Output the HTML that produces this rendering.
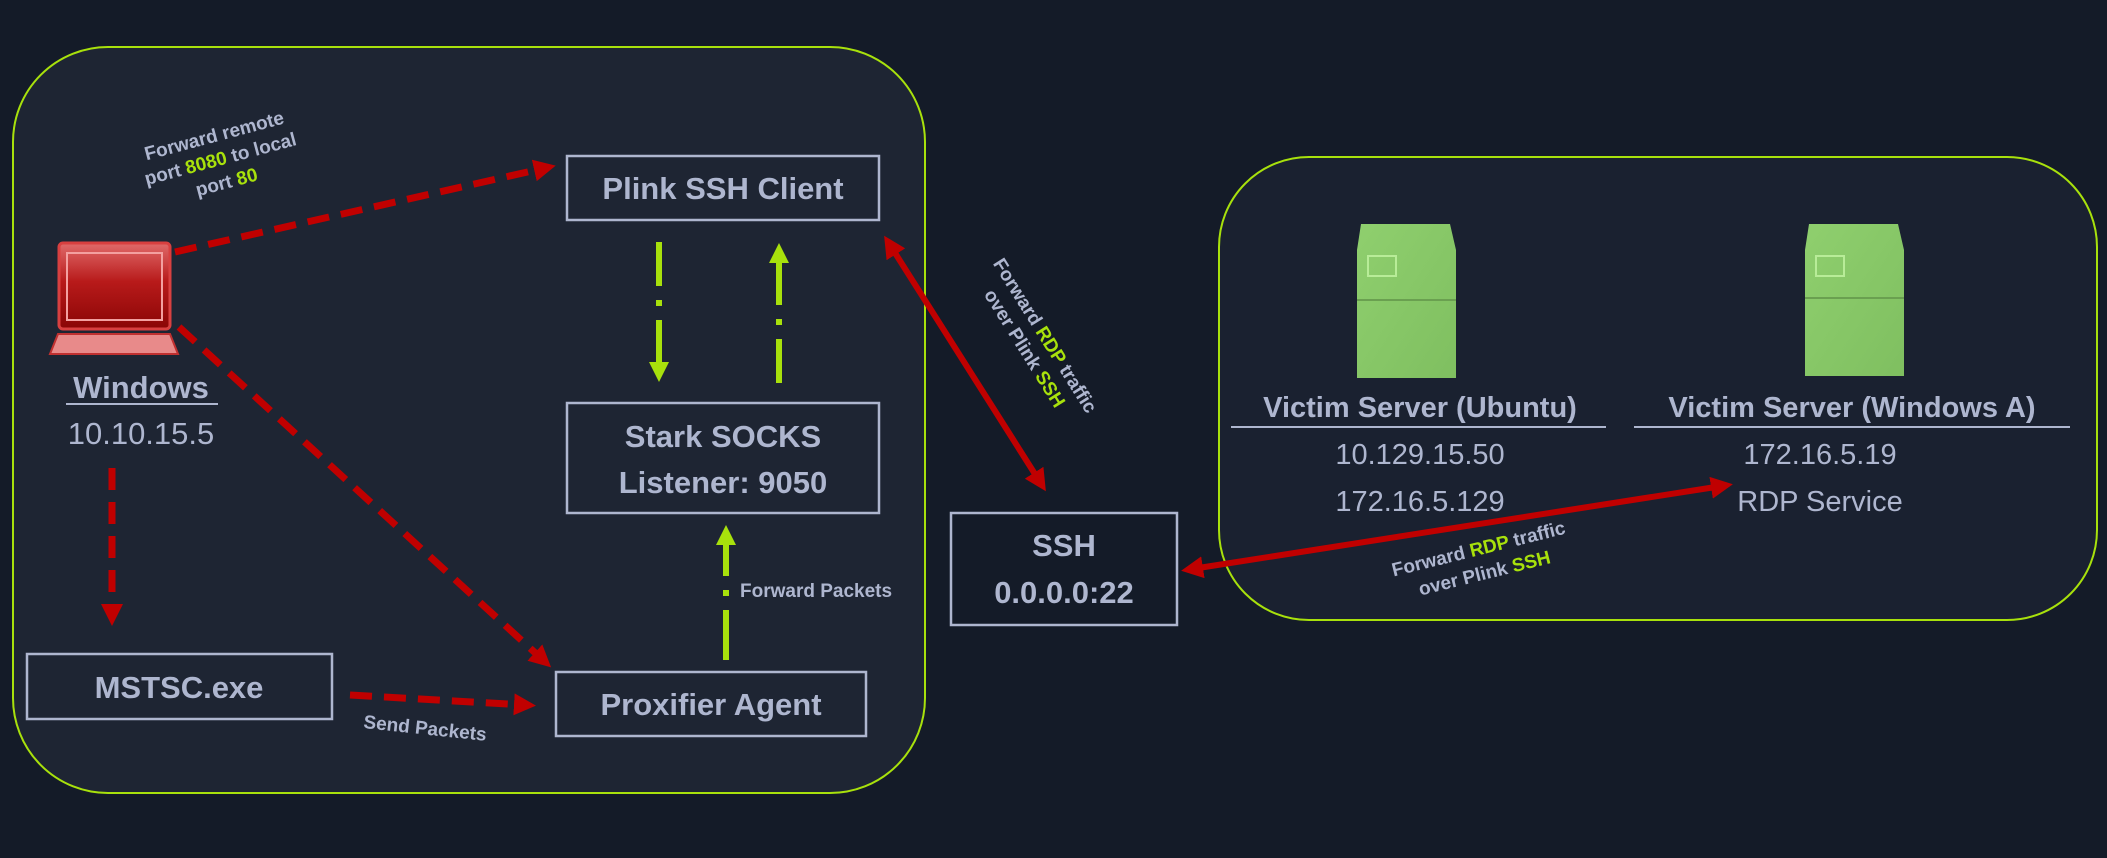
<!DOCTYPE html>
<html><head><meta charset="utf-8"><style>
html,body{margin:0;padding:0;background:#141b28;}
svg{display:block}
text{font-family:"Liberation Sans",sans-serif;fill:#aeb6cf;}
.b{font-weight:bold}
.g{fill:#a8e10c}
</style></head><body>
<svg width="2107" height="858" viewBox="0 0 2107 858" xmlns="http://www.w3.org/2000/svg">
<defs>
<marker id="arr" markerWidth="22" markerHeight="22" refX="11" refY="11" orient="auto" markerUnits="userSpaceOnUse" viewBox="0 0 22 22"><path d="M0,0 L22,11 L0,22 z" fill="#c00000"/></marker>
<marker id="arrs" markerWidth="22" markerHeight="22" refX="11" refY="11" orient="auto-start-reverse" markerUnits="userSpaceOnUse" viewBox="0 0 22 22"><path d="M0,0 L22,11 L0,22 z" fill="#c00000"/></marker>
<marker id="ag" markerWidth="20" markerHeight="20" refX="10" refY="10" orient="auto" markerUnits="userSpaceOnUse" viewBox="0 0 20 20"><path d="M0,0 L20,10 L0,20 z" fill="#a8e10c"/></marker>
<linearGradient id="srv" x1="0" y1="0" x2="1" y2="1"><stop offset="0" stop-color="#8fcf6e"/><stop offset="1" stop-color="#7fbf60"/></linearGradient>
<linearGradient id="scr" x1="0" y1="0" x2="0" y2="1"><stop offset="0" stop-color="#e06a6a"/><stop offset="0.45" stop-color="#b81a1a"/><stop offset="1" stop-color="#8a0606"/></linearGradient>
</defs>
<rect x="13" y="47" width="912" height="746" rx="95" fill="#1e2533" stroke="#a8e10c" stroke-width="2"/>
<rect x="1219" y="157" width="878" height="463" rx="90" fill="#1a2130" stroke="#a8e10c" stroke-width="2"/>

<g fill="none" stroke="#aeb6cf" stroke-width="2.5">
<rect x="567" y="156" width="312" height="64"/>
<rect x="567" y="403" width="312" height="110"/>
<rect x="556" y="672" width="310" height="64"/>
<rect x="27" y="654" width="305" height="65"/>
<rect x="951" y="513" width="226" height="112"/>
</g>
<g class="b" font-size="31" text-anchor="middle">
<text x="723" y="199">Plink SSH Client</text>
<text x="723" y="447">Stark SOCKS</text>
<text x="723" y="493">Listener: 9050</text>
<text x="711" y="715">Proxifier Agent</text>
<text x="179" y="698">MSTSC.exe</text>
<text x="1064" y="556">SSH</text>
<text x="1064" y="603">0.0.0.0:22</text>
</g>

<rect x="59" y="243" width="111" height="86" rx="4" fill="url(#scr)" stroke="#d84040" stroke-width="3"/>
<rect x="67" y="253" width="95" height="67" fill="none" stroke="#f3a0a0" stroke-width="2"/>
<path d="M58,334 L170,334 L178,354 L50,354 Z" fill="#e88a8a" stroke="#c03030" stroke-width="2"/>
<text x="141" y="398" class="b" font-size="31" text-anchor="middle">Windows</text>
<line x1="66" y1="404" x2="218" y2="404" stroke="#aeb6cf" stroke-width="2"/>
<text x="141" y="444" font-size="31" text-anchor="middle">10.10.15.5</text>

<g>
<path d="M1361,224 L1450,224 L1456,250 L1456,378 L1357,378 L1357,250 Z" fill="url(#srv)"/>
<rect x="1368" y="256" width="28" height="20" fill="none" stroke="#b8ec98" stroke-width="2"/>
<line x1="1357" y1="300" x2="1456" y2="300" stroke="#6aa050" stroke-width="2"/>
<path d="M1809,224 L1898,224 L1904,250 L1904,376 L1805,376 L1805,250 Z" fill="url(#srv)"/>
<rect x="1816" y="256" width="28" height="20" fill="none" stroke="#b8ec98" stroke-width="2"/>
<line x1="1805" y1="298" x2="1904" y2="298" stroke="#6aa050" stroke-width="2"/>
</g>
<g class="b" font-size="29" text-anchor="middle">
<text x="1420" y="417">Victim Server (Ubuntu)</text>
<text x="1852" y="417">Victim Server (Windows A)</text>
</g>
<line x1="1231" y1="427" x2="1606" y2="427" stroke="#aeb6cf" stroke-width="2"/>
<line x1="1634" y1="427" x2="2070" y2="427" stroke="#aeb6cf" stroke-width="2"/>
<g font-size="29" text-anchor="middle">
<text x="1420" y="464">10.129.15.50</text>
<text x="1420" y="511">172.16.5.129</text>
<text x="1820" y="464">172.16.5.19</text>
<text x="1820" y="511">RDP Service</text>
</g>

<g stroke="#c00000" stroke-width="7" stroke-dasharray="22,12" fill="none">
<line x1="175" y1="252" x2="545" y2="168" marker-end="url(#arr)"/>
<line x1="179" y1="327" x2="543" y2="660" marker-end="url(#arr)"/>
<line x1="112" y1="468" x2="112" y2="615" marker-end="url(#arr)"/>
<line x1="350" y1="695" x2="525" y2="705" marker-end="url(#arr)"/>
</g>
<g stroke="#c00000" stroke-width="6" fill="none">
<line x1="890" y1="245" x2="1040" y2="482" marker-start="url(#arrs)" marker-end="url(#arrs)"/>
<line x1="1192" y1="569" x2="1722" y2="486" marker-start="url(#arrs)" marker-end="url(#arrs)"/>
</g>

<g stroke="#a8e10c" stroke-width="6" fill="none" stroke-dasharray="44,14,6,14">
<line x1="659" y1="242" x2="659" y2="372" marker-end="url(#ag)"/>
<line x1="779" y1="383" x2="779" y2="253" marker-end="url(#ag)"/>
<line x1="726" y1="660" x2="726" y2="535" marker-end="url(#ag)" stroke-dasharray="50,14,6,14"/>
</g>

<g class="b" font-size="19">
<g transform="translate(222,165) rotate(-15)" text-anchor="middle">
<text x="0" y="-24">Forward remote</text>
<text x="0" y="0">port <tspan class="g">8080</tspan> to local</text>
<text x="0" y="24">port <tspan class="g">80</tspan></text>
</g>
<text x="740" y="597">Forward Packets</text>
<text transform="translate(363,728) rotate(6)">Send Packets</text>
<g transform="translate(1038,340) rotate(58)" text-anchor="middle">
<text x="0" y="-2">Forward <tspan class="g">RDP</tspan> traffic</text>
<text x="0" y="22">over Plink <tspan class="g">SSH</tspan></text>
</g>
<g transform="translate(1480,555) rotate(-14)" text-anchor="middle">
<text x="0" y="0">Forward <tspan class="g">RDP</tspan> traffic</text>
<text x="0" y="25">over Plink <tspan class="g">SSH</tspan></text>
</g>
</g>
</svg>
</body></html>
